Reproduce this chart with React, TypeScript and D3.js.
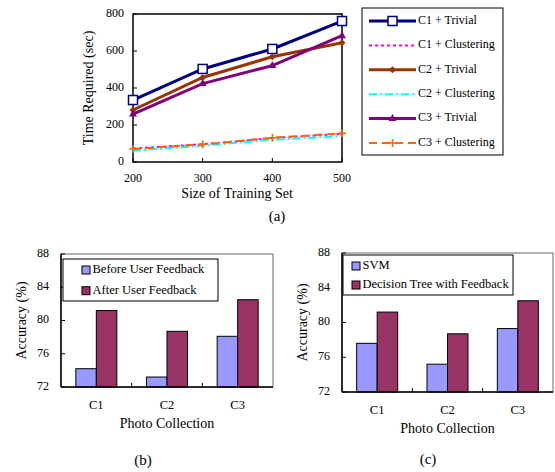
import React from "react";
import * as d3 from "d3";

// panel (a): training time
const sizes = [200, 300, 400, 500];
const c1Trivial = [335, 503, 611, 762];
const c1Clustering = [73, 96, 129, 152];
const c2Trivial = [281, 457, 569, 645];
const c2Clustering = [61, 88, 120, 140];
const c3Trivial = [259, 424, 521, 683];
const c3Clustering = [70, 95, 131, 155];
const timeTicks = [0, 200, 400, 600, 800];

// panels (b) and (c): accuracy
const collections = ["C1", "C2", "C3"];
const beforeFeedback = [74.2, 73.2, 78.1];
const afterFeedback = [81.2, 78.7, 82.5];
const svmAcc = [77.6, 75.2, 79.3];
const treeAcc = [81.2, 78.7, 82.5];
const accTicks = [72, 76, 80, 84, 88];

const FONT = "'Liberation Serif', 'Times New Roman', serif";

type LineSeries = {
  name: string;
  values: number[];
  color: string;
  width: number;
  dash?: string;
  marker?: "square" | "diamond" | "triangle" | "plus";
};

const lineSeries: LineSeries[] = [
  { name: "C1 + Trivial", values: c1Trivial, color: "#000080", width: 3, marker: "square" },
  { name: "C1 + Clustering", values: c1Clustering, color: "#FF00FF", width: 2, dash: "3,3" },
  { name: "C2 + Trivial", values: c2Trivial, color: "#993300", width: 3, marker: "diamond" },
  { name: "C2 + Clustering", values: c2Clustering, color: "#00FFFF", width: 2, dash: "8,3,2,3" },
  { name: "C3 + Trivial", values: c3Trivial, color: "#800080", width: 3, marker: "triangle" },
  { name: "C3 + Clustering", values: c3Clustering, color: "#FF6600", width: 2, dash: "8,5", marker: "plus" },
];

function Marker({ type, x, y, color }: { type?: string; x: number; y: number; color: string }) {
  if (type === "square")
    return <rect x={x - 4.5} y={y - 4.5} width={9} height={9} fill="white" stroke={color} strokeWidth={1.5} />;
  if (type === "diamond")
    return <path d={`M${x},${y - 3.5}L${x + 3.5},${y}L${x},${y + 3.5}L${x - 3.5},${y}Z`} fill={color} />;
  if (type === "triangle")
    return <path d={`M${x},${y - 4.5}L${x + 4},${y + 2.5}L${x - 4},${y + 2.5}Z`} fill={color} />;
  if (type === "plus")
    return <path d={`M${x - 4},${y}H${x + 4}M${x},${y - 4}V${y + 4}`} stroke={color} strokeWidth={1.5} />;
  return null;
}

function LinePanel() {
  const x = d3.scaleLinear().domain([200, 500]).range([133, 342]);
  const y = d3.scaleLinear().domain([0, 800]).range([162, 14]);
  const line = d3
    .line<number>()
    .x((_, i) => x(sizes[i]))
    .y((d) => y(d));

  const legX = 362;
  const legY = 8;
  return (
    <g fontFamily={FONT}>
      {timeTicks.map((t) => (
        <g key={t}>
          <text x={124} y={y(t)} fontSize={12} textAnchor="end" dominantBaseline="middle">{t}</text>
          <line x1={133} x2={137} y1={y(t)} y2={y(t)} stroke="black" />
        </g>
      ))}
      {sizes.map((s) => (
        <g key={s}>
          <text x={x(s)} y={179} fontSize={12} textAnchor="middle" dominantBaseline="middle">{s}</text>
          <line x1={x(s)} x2={x(s)} y1={162} y2={158} stroke="black" />
        </g>
      ))}
      <rect x={133} y={14} width={209} height={148} fill="none" stroke="black" strokeWidth={1.5} />
      {lineSeries.map((s) => (
        <g key={s.name}>
          <path d={line(s.values) || ""} fill="none" stroke={s.color} strokeWidth={s.width} strokeDasharray={s.dash} />
          {s.values.map((v, i) => (
            <Marker key={i} type={s.marker} x={x(sizes[i])} y={y(v)} color={s.color} />
          ))}
        </g>
      ))}
      <text x={237} y={195} fontSize={14} textAnchor="middle" dominantBaseline="middle">Size of Training Set</text>
      <text transform="translate(90,88) rotate(-90)" fontSize={14} textAnchor="middle" dominantBaseline="middle">
        Time Required (sec)
      </text>
      <rect x={legX} y={legY} width={141} height={147} fill="white" stroke="black" />
      {lineSeries.map((s, i) => {
        const cy = legY + 13 + i * 24.4;
        return (
          <g key={s.name}>
            <line x1={369} x2={416} y1={cy} y2={cy} stroke={s.color} strokeWidth={s.width} strokeDasharray={s.dash} />
            <Marker type={s.marker} x={392.5} y={cy} color={s.color} />
            <text x={418} y={cy} fontSize={12} dominantBaseline="middle">{s.name}</text>
          </g>
        );
      })}
      <text x={277} y={218} fontSize={15} textAnchor="middle" dominantBaseline="middle">(a)</text>
    </g>
  );
}

type BarProps = {
  left: number;
  right: number;
  top: number;
  bottom: number;
  first: number[];
  second: number[];
  names: string[];
  legend: { x: number; y: number; w: number; h: number; gap: number; sw: number };
  caption: string;
  captionX: number;
  captionY: number;
};

function BarPanel({ left, right, top, bottom, first, second, names, legend, caption, captionX, captionY }: BarProps) {
  const x0 = d3.scaleBand().domain(collections).range([left, right]);
  const x1 = d3.scaleBand().domain(["a", "b"]).range([0, 41]);
  const y = d3.scaleLinear().domain([72, 88]).range([bottom, top]);
  const off = (x0.bandwidth() - 41) / 2;
  const mid = (left + right) / 2;
  const colors = ["#9999FF", "#993366"];
  return (
    <g fontFamily={FONT}>
      <rect x={left} y={top} width={right - left} height={bottom - top} fill="none" stroke="#666" />
      {accTicks.map((t) => (
        <g key={t}>
          <text x={left - 12} y={y(t)} fontSize={12} textAnchor="end" dominantBaseline="middle">{t}</text>
          <line x1={left} x2={left + 4} y1={y(t)} y2={y(t)} stroke="black" />
        </g>
      ))}
      {collections.slice(1).map((c) => (
        <line key={c} x1={x0(c)!} x2={x0(c)!} y1={bottom} y2={bottom - 4} stroke="black" />
      ))}
      {collections.map((c, i) => (
        <g key={c}>
          {[first[i], second[i]].map((v, j) => (
            <rect
              key={j}
              x={x0(c)! + off + x1(j === 0 ? "a" : "b")!}
              y={y(v)}
              width={x1.bandwidth()}
              height={bottom - y(v)}
              fill={colors[j]}
              stroke="black"
              strokeWidth={1}
            />
          ))}
          <text x={x0(c)! + x0.bandwidth() / 2} y={bottom + 19} fontSize={12.5} textAnchor="middle" dominantBaseline="middle">{c}</text>
        </g>
      ))}
      <line x1={left} x2={left} y1={top} y2={bottom} stroke="black" strokeWidth={1.5} />
      <line x1={left} x2={right} y1={bottom} y2={bottom} stroke="black" strokeWidth={1.5} />
      <text x={mid} y={bottom + 38} fontSize={14} textAnchor="middle" dominantBaseline="middle">Photo Collection</text>
      <text transform={`translate(${left - 38},${(top + bottom) / 2}) rotate(-90)`} fontSize={14} textAnchor="middle" dominantBaseline="middle">
        Accuracy (%)
      </text>
      <rect x={legend.x} y={legend.y} width={legend.w} height={legend.h} fill="white" stroke="black" />
      {names.map((n, i) => {
        const cy = legend.y + 11 + i * legend.gap;
        return (
          <g key={n}>
            <rect x={legend.x + legend.sw} y={cy - 4} width={8} height={8} fill={colors[i]} stroke="black" />
            <text x={legend.x + legend.sw + 10.5} y={cy} fontSize={12.5} dominantBaseline="middle">{n}</text>
          </g>
        );
      })}
      <text x={captionX} y={captionY} fontSize={15} textAnchor="middle" dominantBaseline="middle">{caption}</text>
    </g>
  );
}

export default function App() {
  return (
    <svg width={555} height={472} style={{ position: "absolute", left: 0, top: 0, background: "white" }}>
      <LinePanel />
      <BarPanel
        left={61}
        right={273}
        top={254}
        bottom={387}
        first={beforeFeedback}
        second={afterFeedback}
        names={["Before User Feedback", "After User Feedback"]}
        legend={{ x: 63, y: 259, w: 155, h: 42, gap: 20.7, sw: 19 }}
        caption="(b)"
        captionX={143}
        captionY={462}
      />
      <BarPanel
        left={342}
        right={553}
        top={253}
        bottom={392}
        first={svmAcc}
        second={treeAcc}
        names={["SVM", "Decision Tree with Feedback"]}
        legend={{ x: 343, y: 255, w: 170, h: 40, gap: 19, sw: 9 }}
        caption="(c)"
        captionX={428}
        captionY={461}
      />
    </svg>
  );
}
